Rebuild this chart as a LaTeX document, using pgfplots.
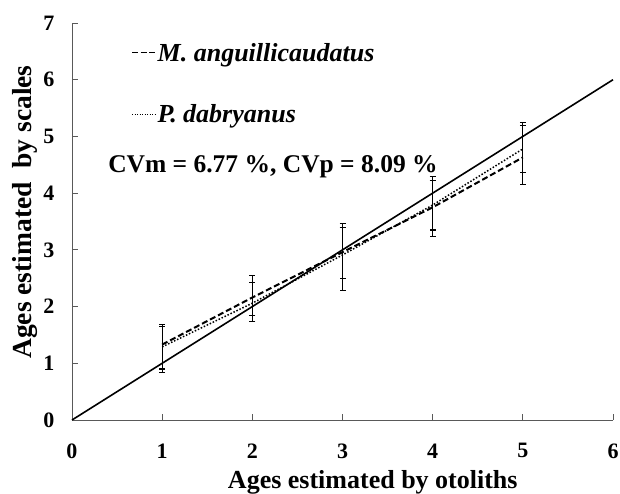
\documentclass[border=0pt]{standalone}
\usepackage{pgfplots}
\pgfplotsset{compat=1.18}
\usepackage{fontspec}
\setmainfont{Liberation Serif}
\begin{document}
\begin{tikzpicture}
\begin{axis}[
  scale only axis,
  width=541pt, height=397pt,
  xmin=0, xmax=6, ymin=0, ymax=7,
  axis lines*=left,
  axis line style={gray!70!black, line width=1pt},
  tick style={gray!70!black, line width=1pt},
  major tick length=6pt,
  tick align=inside,
  xtick={0,...,6}, ytick={0,...,7},
  /pgf/number format/assume math mode=true,
  ticklabel style={font=\fontsize{22}{24}\selectfont\bfseries},
  xticklabel style={yshift=-20pt},
  yticklabel style={xshift=-14pt},
  xlabel={Ages estimated by otoliths},
  ylabel={Ages estimated\ \ by scales},
  xlabel style={font=\fontsize{26}{28}\selectfont\bfseries, at={(axis description cs:0.556,0)}, anchor=north, yshift=-50pt, inner sep=0pt},
  ylabel style={font=\fontsize{27.5}{30}\selectfont\bfseries, at={(axis description cs:-0.0628,0.524)}, anchor=south, inner sep=0pt},
  clip=false,
  legend style={draw=none, fill=none, at={(axis description cs:0.11,0.955)}, anchor=north west,
    font=\fontsize{26}{28}\selectfont\bfseries\itshape, row sep=38pt, inner sep=0pt,
    /tikz/every even column/.append style={column sep=2pt}},
  legend cell align=left,
  legend image code/.code={\draw[#1] (0pt,0pt) -- (23pt,0pt);},
]
% 1:1 line
\addplot[black, line width=1.6pt, forget plot] coordinates {(0,0) (6,6)};
% M. anguillicaudatus (dashed)
\addplot[black, line width=2pt, dash pattern=on 6pt off 3pt, forget plot] coordinates {
(1,1.33) (2,2.16) (3,2.96) (4,3.75) (5,4.63)};
% P. dabryanus (dotted)
\addplot[black, line width=1.5pt, dash pattern=on 1.5pt off 1.8pt, forget plot] coordinates {
(1,1.29) (2,2.06) (3,2.91) (4,3.79) (5,4.78)};
% error bars
\addplot[draw=none, mark=none, forget plot, error bars/.cd, y dir=both, y explicit,
  error bar style={black, line width=1.1pt},
  error mark options={rotate=90, mark size=3pt, line width=1.1pt}]
  coordinates {
  (1,1.26) +- (0,0.43)
  (2,2.135) +- (0,0.405)
  (3,2.87) +- (0,0.59)
  (4,3.765) +- (0,0.535)
  (5,4.70) +- (0,0.54)};
\addplot[draw=none, mark=none, forget plot, error bars/.cd, y dir=both, y explicit,
  error bar style={black, line width=1.1pt, dash pattern=on 3pt off 2pt},
  error mark options={rotate=90, mark size=3pt, line width=1.1pt, solid}]
  coordinates {
  (1,1.275) +- (0,0.375)
  (2,2.135) +- (0,0.285)
  (3,2.95) +- (0,0.45)
  (4,3.785) +- (0,0.435)
  (5,4.775) +- (0,0.415)};
\addlegendimage{black, line width=1pt, dash pattern=on 6pt off 2.5pt}
\addlegendentry{M. anguillicaudatus}
\addlegendimage{black, line width=1pt, dash pattern=on 1pt off 1.5pt}
\addlegendentry{P. dabryanus}
\node[anchor=base west, inner sep=0pt, font=\fontsize{25.5}{28}\selectfont\bfseries] at (axis cs:0.40,4.37) {CVm = 6.77 \%, CVp = 8.09 \%};
\end{axis}
\pgfresetboundingbox
\path[use as bounding box] (-72pt,-73pt) rectangle (548pt,420pt);
\end{tikzpicture}
\end{document}
